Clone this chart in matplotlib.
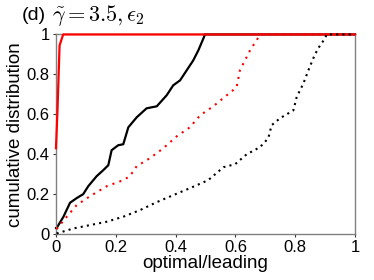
import matplotlib
matplotlib.use("Agg")
import matplotlib.pyplot as plt

plt.rcParams['font.family'] = ['Liberation Sans', 'DejaVu Sans']
plt.rcParams['mathtext.fontset'] = 'cm'

# red solid
red_solid_x = [0.0, 0.005, 0.012, 0.024, 1.0]
red_solid_y = [0.43, 0.62, 0.945, 1.0, 1.0]

# black solid
black_solid_x = [0.0, 0.002, 0.025, 0.047, 0.069, 0.091, 0.108, 0.136, 0.158, 0.175, 0.186,
                 0.208, 0.225, 0.242, 0.27, 0.303, 0.337, 0.37, 0.392, 0.415, 0.437, 0.459,
                 0.476, 0.493, 0.498, 1.0]
black_solid_y = [0.03, 0.03, 0.087, 0.157, 0.18, 0.2, 0.24, 0.29, 0.32, 0.345, 0.42,
                 0.445, 0.45, 0.535, 0.585, 0.63, 0.64, 0.695, 0.745, 0.77, 0.82, 0.87,
                 0.92, 0.98, 1.0, 1.0]

# red dotted
red_dot_x = [0.002, 0.036, 0.069, 0.114, 0.17, 0.225, 0.247, 0.27, 0.314, 0.359, 0.404,
             0.448, 0.482, 0.526, 0.571, 0.604, 0.615, 0.632, 0.649, 0.666, 0.677, 0.68, 1.0]
red_dot_y = [0.025, 0.087, 0.145, 0.19, 0.24, 0.27, 0.29, 0.34, 0.38, 0.43, 0.49,
             0.535, 0.595, 0.64, 0.695, 0.735, 0.82, 0.87, 0.92, 0.96, 0.985, 1.0, 1.0]

# black dotted
black_dot_x = [0.002, 0.058, 0.17, 0.225, 0.281, 0.337, 0.392, 0.448, 0.509, 0.56, 0.599,
               0.638, 0.682, 0.71, 0.721, 0.749, 0.794, 0.805, 0.827, 0.844, 0.866, 0.883,
               0.9, 0.905, 1.0]
black_dot_y = [0.003, 0.028, 0.062, 0.087, 0.12, 0.16, 0.195, 0.23, 0.27, 0.335, 0.35,
               0.40, 0.435, 0.48, 0.545, 0.58, 0.62, 0.687, 0.753, 0.82, 0.9, 0.945,
               0.98, 1.0, 1.0]

xticks = [0, 0.2, 0.4, 0.6, 0.8, 1]
xticklabels = ['0', '0.2', '0.4', '0.6', '0.8', '1']
yticks = [0, 0.2, 0.4, 0.6, 0.8, 1]
yticklabels = ['0', '0.2', '0.4', '0.6', '0.8', '1']

fig = plt.figure(figsize=(3.74, 2.8), dpi=100)
ax = fig.add_axes([0.1497, 0.164, 0.7995, 0.713])

ax.plot(black_solid_x, black_solid_y, color='black', lw=1.6, clip_on=False, zorder=2)
ax.plot(red_solid_x, red_solid_y, color='red', lw=1.6, clip_on=False, zorder=3)
ax.plot(red_dot_x, red_dot_y, color='red', lw=1.5, linestyle=(0, (1, 2.5)), clip_on=False, zorder=4)
ax.plot(black_dot_x, black_dot_y, color='black', lw=1.5, linestyle=(0, (1, 2)), clip_on=False, zorder=5)

ax.set_xlim(0, 1)
ax.set_ylim(0, 1)
ax.set_xticks(xticks)
ax.set_xticklabels(xticklabels)
ax.set_yticks(yticks)
ax.set_yticklabels(yticklabels)
ax.tick_params(direction='out', labelsize=12, length=2.5, width=0.8, color='#333333', pad=2)
for s in ax.spines.values():
    s.set_color('#808080')
    s.set_linewidth(1.0)
ax.set_xlabel('optimal/leading', fontsize=13.5, labelpad=0)
ax.set_ylabel('cumulative distribution', fontsize=13.5, labelpad=2)

fig.text(0.058, 0.945, '(d)', fontsize=14, va='center', ha='left')
fig.text(0.14, 0.945, r'$\tilde{\gamma}=3.5, \epsilon_2$', fontsize=16, va='center', ha='left')

fig.savefig('out.png', dpi=100)
